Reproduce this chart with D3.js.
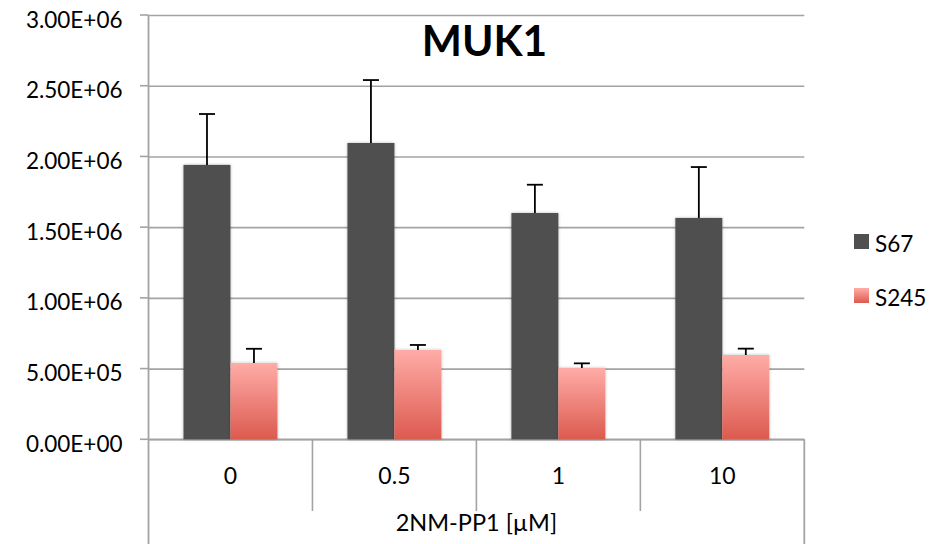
<!DOCTYPE html>
<html><head><meta charset="utf-8">
<script src="https://cdn.jsdelivr.net/npm/d3@7"></script>
<style>body{margin:0;background:#fff}svg{display:block}text{font-family:Lato,"Liberation Sans",sans-serif;fill:#000}</style>
</head><body>
<script>
const categories = ["0", "0.5", "1", "10"];
const seriesNames = ["S67", "S245"];
const s67 = [1.94e6, 2.095e6, 1.60e6, 1.565e6];
const s67Err = [0.36e6, 0.445e6, 0.20e6, 0.36e6];
const s245 = [0.54e6, 0.632e6, 0.504e6, 0.596e6];
const s245Err = [0.10e6, 0.035e6, 0.033e6, 0.045e6];
const yTicks = [0, 5e5, 1e6, 1.5e6, 2e6, 2.5e6, 3e6];
const yTickLabels = ["0.00E+00","5.00E+05","1.00E+06","1.50E+06","2.00E+06","2.50E+06","3.00E+06"];
const title = "MUK1";
const xTitle = "2NM-PP1 [µM]";

const W = 948, H = 544;
const L = 148.5, R = 804.3, T = 15, B = 439.3;
const grid = "#a3a3a3";

const svg = d3.select("body").append("svg").attr("width", W).attr("height", H);
const defs = svg.append("defs");
const g1 = defs.append("linearGradient").attr("id","pink").attr("x1",0).attr("y1",0).attr("x2",0).attr("y2",1);
g1.append("stop").attr("offset","0%").attr("stop-color","#ffaca7");
g1.append("stop").attr("offset","100%").attr("stop-color","#dc5a4f");
const f = defs.append("filter").attr("id","sh").attr("x","-20%").attr("y","-5%").attr("width","140%").attr("height","110%");
f.append("feDropShadow").attr("dx",0).attr("dy",0).attr("stdDeviation",1.6).attr("flood-color","#000").attr("flood-opacity",0.28);

const y = d3.scaleLinear().domain([0, 3e6]).range([B, T]);
const x = d3.scaleBand().domain(categories).range([L, R]).padding(0);
const xs = d3.scaleBand().domain(seriesNames).range([0, x.bandwidth()]).paddingInner(0).paddingOuter(0.745);

// gridlines
const yAxis = d3.axisLeft(y).tickValues(yTicks).tickFormat((d,i)=>yTickLabels[i]).tickSize(-(R-L)).tickPadding(26);
const ya = svg.append("g").attr("transform",`translate(${L},0)`).call(yAxis);
ya.select(".domain").remove();
ya.selectAll(".tick line").attr("stroke",grid).attr("stroke-width",1.6);
ya.selectAll(".tick text").attr("font-size",22.5).attr("dy",null).attr("y",0).attr("dominant-baseline","auto")
  .attr("transform","translate(0,12)").attr("x",-26).style("font-family","Lato");
// small tick marks outside
svg.append("g").selectAll("line").data(yTicks).join("line")
  .attr("x1",L-8.5).attr("x2",L).attr("y1",d=>y(d)).attr("y2",d=>y(d)).attr("stroke",grid).attr("stroke-width",1.6);

// axes frame
svg.append("line").attr("x1",L).attr("x2",L).attr("y1",T).attr("y2",H).attr("stroke",grid).attr("stroke-width",1.8);
svg.append("line").attr("x1",R).attr("x2",R).attr("y1",B).attr("y2",H).attr("stroke",grid).attr("stroke-width",1.8);
svg.append("g").selectAll("line").data(categories.slice(1)).join("line")
  .attr("x1",d=>x(d)).attr("x2",d=>x(d)).attr("y1",B).attr("y2",511).attr("stroke",grid).attr("stroke-width",1.6);
svg.append("line").attr("x1",L).attr("x2",R).attr("y1",B).attr("y2",B).attr("stroke",grid).attr("stroke-width",1.8);

// bars
const data = categories.map((c,i)=>({c, vals:[{s:"S67",v:s67[i],e:s67Err[i]},{s:"S245",v:s245[i],e:s245Err[i]}]}));
const groups = svg.append("g").selectAll("g").data(data).join("g").attr("transform",d=>`translate(${x(d.c)},0)`);
groups.selectAll("rect").data(d=>d.vals).join("rect")
  .attr("x",d=>xs(d.s)).attr("width",xs.bandwidth())
  .attr("y",d=>y(d.v)).attr("height",d=>B-y(d.v))
  .attr("fill",d=>d.s==="S67"?"#505050":"url(#pink)").attr("filter","url(#sh)");
// error bars
groups.each(function(d){
  const gg = d3.select(this);
  d.vals.forEach(v=>{
    const cx = xs(v.s)+xs.bandwidth()/2;
    gg.append("line").attr("x1",cx).attr("x2",cx).attr("y1",y(v.v)).attr("y2",y(v.v+v.e)).attr("stroke","#000").attr("stroke-width",1.8);
    gg.append("line").attr("x1",cx-8).attr("x2",cx+8).attr("y1",y(v.v+v.e)).attr("y2",y(v.v+v.e)).attr("stroke","#000").attr("stroke-width",1.8);
  });
});
// category labels
svg.append("g").selectAll("text").data(categories).join("text")
  .attr("x",d=>x(d)+x.bandwidth()/2).attr("y",484.3).attr("text-anchor","middle").attr("font-size",23).text(d=>d);
svg.append("text").attr("x",(L+R)/2).attr("y",531).attr("text-anchor","middle").attr("font-size",23.5).text(xTitle);
// title
svg.append("text").attr("x",484.5).attr("y",56).attr("text-anchor","middle").attr("font-size",42.5).attr("font-weight","bold").text(title);
// legend
const lg = svg.append("g").selectAll("g").data(seriesNames).join("g").attr("transform",(d,i)=>`translate(854,${234+i*54})`);
lg.append("rect").attr("width",15).attr("height",15).attr("fill",d=>d==="S67"?"#505050":"url(#pink)");
lg.append("text").attr("x",21).attr("y",17.5).attr("font-size",22.5).text(d=>d);
</script>
</body></html>
